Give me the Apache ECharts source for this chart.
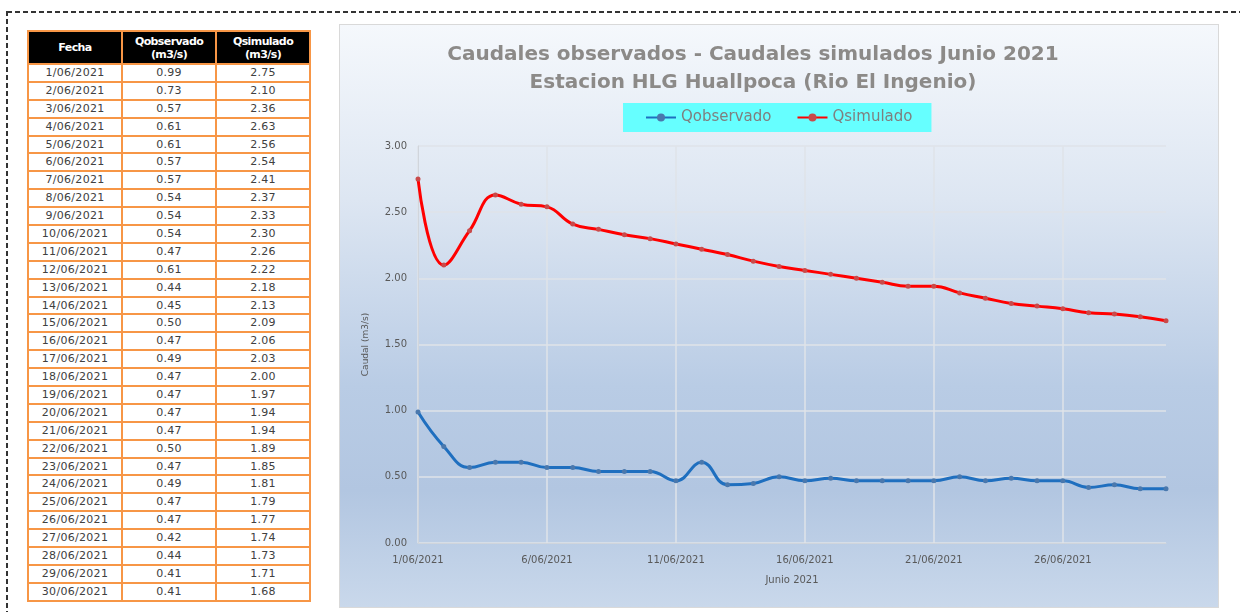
<!DOCTYPE html>
<html>
<head>
<meta charset="utf-8">
<script src="https://cdn.jsdelivr.net/npm/echarts@6/dist/echarts.min.js"></script>
<style>
  html, body { margin: 0; padding: 0; background: #fff; }
  body { width: 1240px; height: 612px; position: relative; overflow: hidden; font-family: "DejaVu Sans", sans-serif; }
  .dash-top { position: absolute; left: 7px; top: 11px; width: 1233px; height: 2px;
    background: repeating-linear-gradient(to right, #333 0 5px, transparent 5px 8px); }
  .dash-left { position: absolute; left: 6px; top: 11px; width: 2px; height: 601px;
    background: repeating-linear-gradient(to bottom, #333 0 5px, transparent 5px 8px); }
  #tabla { position: absolute; left: 27px; top: 30px; width: 284px; border-collapse: collapse; table-layout: fixed; }
  #tabla th, #tabla td { border: 2px solid #f79646; text-align: center; padding: 0; overflow: hidden; white-space: nowrap; }
  #tabla th { background: #000; color: #fff; font-weight: bold; font-size: 11px; line-height: 13px; letter-spacing: -0.6px; height: 31px; }
  #tabla td { font-size: 11px; color: #404040; height: 15.9px; line-height: 14px; letter-spacing: 0.3px; background: #fff; }
  #grafico { position: absolute; left: 339px; top: 24px; width: 878px; height: 582px; border: 1px solid #d9d9d9;
    background: linear-gradient(to bottom, #f5f8fc 0%, #dde6f2 30%, #b9cce5 62%, #b2c6e1 80%, #c9d8eb 100%); }
</style>
</head>
<body>
<div class="dash-top"></div>
<div class="dash-left"></div>
<table id="tabla"></table>
<div id="grafico"></div>
<script>
// datos del reporte (junio 2021)
const fechas = ['1/06/2021','2/06/2021','3/06/2021','4/06/2021','5/06/2021','6/06/2021','7/06/2021','8/06/2021','9/06/2021','10/06/2021',
  '11/06/2021','12/06/2021','13/06/2021','14/06/2021','15/06/2021','16/06/2021','17/06/2021','18/06/2021','19/06/2021','20/06/2021',
  '21/06/2021','22/06/2021','23/06/2021','24/06/2021','25/06/2021','26/06/2021','27/06/2021','28/06/2021','29/06/2021','30/06/2021']
const qObservado = [0.99,0.73,0.57,0.61,0.61,0.57,0.57,0.54,0.54,0.54,0.47,0.61,0.44,0.45,0.50,
  0.47,0.49,0.47,0.47,0.47,0.47,0.50,0.47,0.49,0.47,0.47,0.42,0.44,0.41,0.41]
const qSimulado = [2.75,2.10,2.36,2.63,2.56,2.54,2.41,2.37,2.33,2.30,2.26,2.22,2.18,2.13,2.09,
  2.06,2.03,2.00,1.97,1.94,1.94,1.89,1.85,1.81,1.79,1.77,1.74,1.73,1.71,1.68]
const encabezados = [['Fecha'], ['Qobservado', '(m3/s)'], ['Qsimulado', '(m3/s)']]

// ─── tabla ───
const tabla = document.getElementById('tabla')
let html = '<tr>' + encabezados.map(h => `<th>${h.join('<br>')}</th>`).join('') + '</tr>'
fechas.forEach((f, i) => {
  html += `<tr><td>${f}</td><td>${qObservado[i].toFixed(2)}</td><td>${qSimulado[i].toFixed(2)}</td></tr>`
})
tabla.innerHTML = html

// ─── grafico ───
const txtGris = '#595959'
const tituloStyle = { fontSize: 20, fontWeight: 'bold', color: '#8c8a88', fontFamily: 'DejaVu Sans' }
const chart = echarts.init(document.getElementById('grafico'), null, { renderer: 'canvas' })
chart.setOption({
  backgroundColor: 'transparent',
  animation: false,
  textStyle: { fontFamily: 'DejaVu Sans' },
  title: [
    { text: 'Caudales observados - Caudales simulados Junio 2021', left: 408, top: 15, textAlign: 'center', textStyle: tituloStyle },
    { text: 'Estacion HLG Huallpoca (Rio El Ingenio)', left: 408, top: 43, textAlign: 'center', textStyle: tituloStyle },
  ],
  legend: {
    left: 283, top: 78, padding: [7, 19, 7, 22], itemGap: 25, itemWidth: 30, itemHeight: 10,
    backgroundColor: '#66ffff',
    textStyle: { fontSize: 15, color: '#7f7f7f', fontFamily: 'DejaVu Sans' },
    data: ['Qobservado', 'Qsimulado'],
  },
  grid: { left: 78, right: 52, top: 121, bottom: 64, containLabel: false },
  xAxis: {
    type: 'category', data: fechas, boundaryGap: false,
    name: 'Junio 2021', nameLocation: 'middle', nameGap: 32,
    nameTextStyle: { fontSize: 10, color: txtGris },
    axisLine: { lineStyle: { color: '#d0d5dc', width: 1 } },
    axisTick: { show: false },
    axisLabel: { interval: 4, fontSize: 10, color: txtGris, margin: 12 },
    splitLine: { show: true, interval: 4, lineStyle: { color: '#dfe3e8', width: 1.5 } },
  },
  yAxis: {
    type: 'value', min: 0, max: 3, interval: 0.5,
    name: 'Caudal (m3/s)', nameLocation: 'middle', nameGap: 48,
    nameTextStyle: { fontSize: 9, color: txtGris },
    axisLine: { show: true, lineStyle: { color: '#d0d5dc', width: 1 } },
    axisTick: { show: false },
    axisLabel: { fontSize: 10, color: txtGris, margin: 11, formatter: v => v.toFixed(2) },
    splitLine: { show: true, lineStyle: { color: '#dfe3e8', width: 1.5 } },
  },
  series: [
    { name: 'Qobservado', type: 'line', data: qObservado, smooth: 0.45,
      symbol: 'circle', symbolSize: 5,
      lineStyle: { color: '#1f6fbf', width: 3 },
      itemStyle: { color: '#4a78ad' } },
    { name: 'Qsimulado', type: 'line', data: qSimulado, smooth: 0.45,
      symbol: 'circle', symbolSize: 5,
      lineStyle: { color: '#ff0000', width: 3 },
      itemStyle: { color: '#c94a4a' } },
  ],
})
</script>
</body>
</html>
